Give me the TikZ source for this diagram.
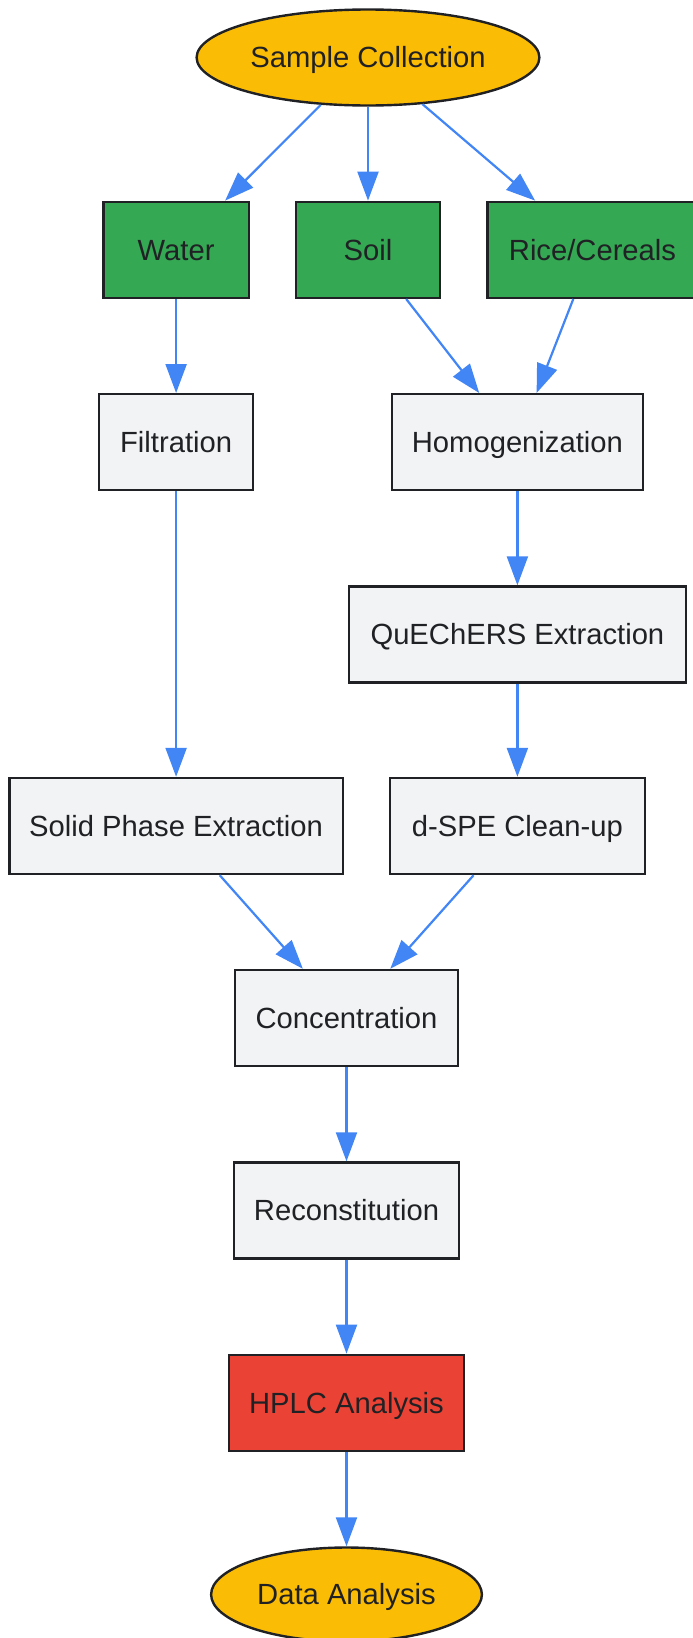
\documentclass[tikz,border=0pt]{standalone}
\usepackage{fontspec}
\setmainfont{Liberation Sans}
\usetikzlibrary{arrows.meta}
\usetikzlibrary{shapes.geometric}
\definecolor{gyellow}{HTML}{FBBC05}
\definecolor{ggreen}{HTML}{34A853}
\definecolor{gred}{HTML}{EA4335}
\definecolor{ggrey}{HTML}{F1F3F4}
\definecolor{gblue}{HTML}{4285F4}
\definecolor{gdark}{HTML}{202124}

\begin{document}
\begin{tikzpicture} [x=0.5pt, y=-0.5pt,
  every node/.style={font=\fontsize{14.6pt}{17pt}\selectfont, text=gdark, draw=gdark, line width=1.2pt, inner sep=0pt, text height=10.45pt, text depth=0pt},
  stepbox/.style={rectangle, fill=ggrey, minimum height=48pt},
  samplebox/.style={stepbox, fill=ggreen},
  endpoint/.style={ellipse, fill=gyellow},
  flow/.style={gblue, line width=1.1pt, -{Triangle[length=14.5pt, width=10.5pt]}}]
\useasboundingbox (0,0) rectangle (692,1638);

\node[endpoint, minimum width=171.4pt, minimum height=48pt] (collect) at (368,57.5) {Sample Collection};
\node[samplebox, minimum width=72.6pt] (water) at (176.1,249.8) {Water};
\node[samplebox, minimum width=72.2pt] (soil) at (368,249.8) {Soil};
\node[samplebox, minimum width=105pt] (rice) at (592.5,249.8) {Rice/Cereals};
\node[stepbox, minimum width=76.9pt] (filt) at (176.1,442.2) {Filtration};
\node[stepbox, minimum width=125.5pt] (homog) at (517.4,442.2) {Homogenization};
\node[stepbox, minimum width=168.3pt] (quech) at (517.4,634.5) {QuEChERS Extraction};
\node[stepbox, minimum width=166.8pt] (spe) at (176.1,826) {Solid Phase Extraction};
\node[stepbox, minimum width=127.5pt] (dspe) at (517.4,826) {d-SPE Clean-up};
\node[stepbox, minimum width=111.3pt] (conc) at (346.5,1018) {Concentration};
\node[stepbox, minimum width=112.4pt] (recon) at (346.5,1210.5) {Reconstitution};
\node[stepbox, fill=gred, minimum width=117.6pt] (hplc) at (346.5,1402.8) {HPLC Analysis};
\node[endpoint, minimum width=135.4pt, minimum height=47pt] (data) at (346.5,1594.5) {Data Analysis};

\foreach \a/\b in {collect/water, collect/soil, collect/rice, water/filt, soil/homog, rice/homog,
  filt/spe, homog/quech, quech/dspe, spe/conc, dspe/conc, conc/recon, recon/hplc, hplc/data}
  \draw[flow] (\a) -- (\b);

\end{tikzpicture}
\end{document}
